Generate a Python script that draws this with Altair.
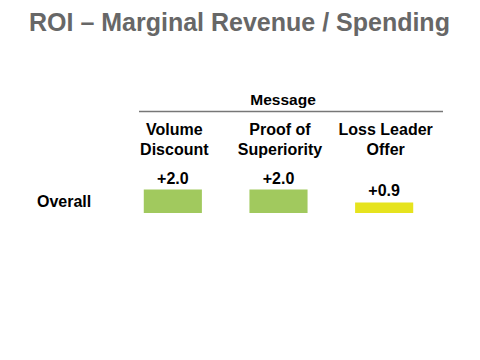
import altair as alt
import pandas as pd

# ---- data ----
messages = ["Volume\nDiscount", "Proof of\nSuperiority", "Loss Leader\nOffer"]
roi_values = [2.0, 2.0, 0.9]
bar_colors = ["#A1C95E", "#A1C95E", "#E6E31E"]
row_label = "Overall"
group_label = "Message"
title_text = "ROI \u2013 Marginal Revenue / Spending"

df = pd.DataFrame({
    "message": messages,
    "roi": roi_values,
    "color": bar_colors,
})
df["label"] = df["roi"].map(lambda v: f"+{v:.1f}")

FONT = "Liberation Sans"

x_scale = alt.Scale(domain=messages, range=[112, 429], paddingInner=0.45, paddingOuter=0.225)
y_scale = alt.Scale(domain=[0, 17.45], range=[205, 0])

base = alt.Chart(df)

bars = base.mark_bar().encode(
    x=alt.X("message:N", scale=x_scale, axis=None, sort=messages),
    y=alt.Y("roi:Q", scale=y_scale, axis=None),
    color=alt.Color("color:N", scale=None, legend=None),
)

labels = base.mark_text(font=FONT, fontSize=16, fontWeight="bold", baseline="bottom",
                        dy=-3, color="#000000").encode(
    x=alt.X("message:N", scale=x_scale, axis=None, sort=messages),
    y=alt.Y("roi:Q", scale=y_scale, axis=None),
    text="label:N",
)

headers = base.mark_text(font=FONT, fontSize=16, fontWeight="bold", baseline="alphabetic",
                         lineBreak="\n", lineHeight=20, color="#000000", dx=1.5).encode(
    x=alt.X("message:N", scale=x_scale, axis=None, sort=messages),
    y=alt.value(127),
    text="message:N",
)

static = pd.DataFrame({"t": [0]})

title = alt.Chart(static).mark_text(font=FONT, fontSize=25, fontWeight="bold", align="left",
                                    baseline="alphabetic", color="#676767").encode(
    x=alt.value(21), y=alt.value(23), text=alt.value(title_text))

group = alt.Chart(static).mark_text(font=FONT, fontSize=15.5, fontWeight="bold", align="center",
                                    baseline="alphabetic", color="#000000").encode(
    x=alt.value(275), y=alt.value(97), text=alt.value(group_label))

rule = alt.Chart(static).mark_rule(color="#777777", strokeWidth=1.5).encode(
    x=alt.value(131), x2=alt.value(435), y=alt.value(103.5))

row = alt.Chart(static).mark_text(font=FONT, fontSize=16, fontWeight="bold", align="left",
                                  baseline="alphabetic", color="#000000").encode(
    x=alt.value(29), y=alt.value(199), text=alt.value(row_label))

chart = alt.layer(title, group, rule, headers, row, bars, labels).properties(
    width=464, height=344, autosize=alt.AutoSizeParams(type="none"), padding=0,
    background="#ffffff",
).configure_view(stroke=None)

chart.save("out.html", embed_options={"renderer": "svg", "actions": False})
